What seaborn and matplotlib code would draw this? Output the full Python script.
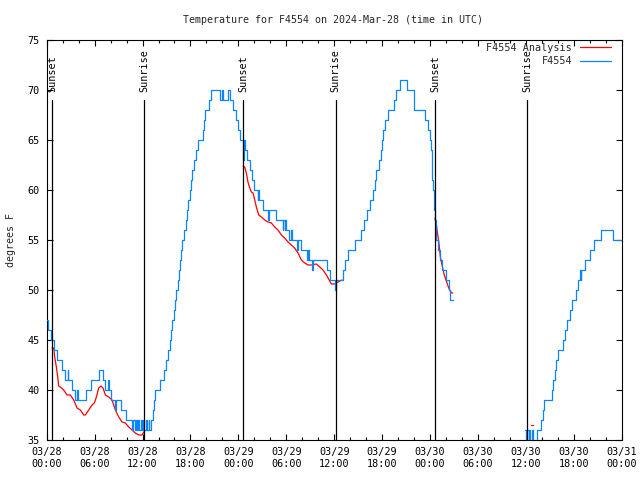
import numpy as np
import pandas as pd
import matplotlib
matplotlib.use("Agg")
import matplotlib.pyplot as plt
import matplotlib.dates as mdates
from matplotlib.lines import Line2D
import seaborn as sns

START = pd.Timestamp("2024-03-28 00:00")
TITLE = "Temperature for F4554 on 2024-Mar-28 (time in UTC)"
Y_LABEL = "degrees F"
SERIES_NAMES = ["F4554 Analysis", "F4554"]

# ---- F4554 observations (hours since 03/28 00:00 UTC, deg F), step data ----
obs1_hours = [0.00, 0.20, 0.55, 0.90, 1.25, 1.90, 2.30, 2.65, 2.72, 3.15, 3.55, 3.80, 3.95,
              4.95, 5.55, 6.60, 7.05, 7.30, 7.70, 7.78, 8.10, 8.50, 8.70, 9.25, 9.95, 10.70,
              10.85, 11.00, 11.15, 11.30, 11.45, 11.60, 11.75, 11.90, 12.05, 12.20, 12.40,
              12.55, 12.75, 12.85, 13.05, 13.25, 13.45, 13.60, 14.20, 14.65, 15.00, 15.20,
              15.40, 15.60, 15.75, 15.95, 16.10, 16.25, 16.40, 16.55, 16.70, 16.85, 17.00,
              17.15, 17.40, 17.60, 17.75, 17.90, 18.05, 18.25, 18.45, 18.65, 19.00, 19.55,
              19.70, 19.78, 20.30, 20.55, 21.65, 21.95, 22.10, 22.65, 23.00, 23.35, 23.75,
              23.95, 24.20, 24.55, 24.62, 24.68, 24.85, 25.05, 25.45, 25.65, 25.90, 26.45,
              26.52, 26.60, 27.05, 27.75, 27.82, 28.75, 29.55, 29.62, 29.80, 29.86, 30.00,
              30.40, 30.55, 30.70, 31.40, 31.45, 31.85, 32.60, 32.66, 32.90, 33.25, 33.31,
              35.05, 35.50, 36.15, 36.25, 37.15, 37.35, 37.75, 38.55, 39.30, 39.70, 40.10,
              40.50, 40.85, 41.05, 41.25, 41.60, 41.80, 41.95, 42.10, 42.40, 42.75, 43.50,
              43.80, 44.25, 45.15, 45.95, 47.40, 47.70, 47.95, 48.15, 48.20, 48.25, 48.30,
              48.35, 48.45, 48.55, 48.62, 48.70, 48.80, 48.95, 49.30, 49.55, 49.95, 50.35,
              50.50, 50.85]
obs1_temps = [47, 46, 45, 44, 43, 42, 41, 42, 41, 40, 39, 40, 39,
              40, 41, 42, 41, 40, 41, 40, 39, 38, 39, 38, 37, 36,
              37, 36, 37, 36, 37, 36, 37, 36, 37, 36, 37,
              36, 37, 36, 37, 38, 39, 40, 41, 42, 43, 44,
              45, 46, 47, 48, 49, 50, 51, 52, 53, 54, 55,
              56, 57, 58, 59, 60, 61, 62, 63, 64, 65, 66,
              67, 68, 69, 70, 69, 70, 69, 70, 69, 68, 67,
              66, 65, 64, 63, 65, 64, 63, 62, 61, 60, 59,
              60, 59, 58, 57, 58, 57, 56, 57, 56, 57, 56,
              55, 56, 55, 54, 55, 54, 53, 54, 53, 52, 53,
              52, 51, 50, 51, 52, 53, 54, 55, 56, 57, 58,
              59, 60, 61, 62, 63, 64, 65, 66, 67, 68, 69,
              70, 71, 70, 68, 67, 66, 65, 64, 63, 62, 61,
              60, 59, 58, 57, 56, 55, 54, 53, 52, 51, 50,
              49, 49]

obs2_hours = [59.85, 60.00, 60.10, 60.20, 60.35, 60.45, 60.55, 60.65, 60.75, 60.85, 61.00,
              61.15, 61.30, 61.45, 61.90, 62.10, 62.30, 63.25, 63.45, 63.60, 63.75, 64.00,
              64.60, 64.95, 65.20, 65.50, 65.75, 66.30, 66.55, 66.75, 66.85, 66.95, 67.40,
              68.00, 68.50, 69.40, 70.95, 71.90]
obs2_temps = [36, 35, 34, 36, 35, 36, 34, 35, 36, 34, 35,
              34, 35, 36, 37, 38, 39, 40, 41, 42, 43, 44,
              45, 46, 47, 48, 49, 50, 51, 52, 51, 52, 53,
              54, 55, 56, 55, 55]

# ---- F4554 Analysis (hours since 03/28 00:00 UTC, deg F) ----
ana1_hours = [0.67, 0.88, 1.00, 1.21, 1.38, 1.50, 1.71, 2.13, 2.55, 2.96, 3.38, 3.80, 4.22,
              4.63, 4.84, 5.26, 5.68, 5.97, 6.22, 6.51, 6.80, 7.05, 7.35, 7.76, 8.18, 8.39,
              8.60, 9.02, 9.43, 9.85, 10.27, 10.69, 11.10, 11.52, 11.94, 12.15]
ana1_temps = [44.2, 44.2, 43.3, 42.3, 41.3, 40.4, 40.3, 40.0, 39.5, 39.5, 39.0, 38.2, 38.0,
              37.5, 37.5, 38.0, 38.5, 38.7, 39.3, 40.2, 40.4, 40.2, 39.5, 39.3, 39.0, 38.5,
              38.0, 37.3, 36.8, 36.7, 36.3, 36.0, 35.7, 35.5, 35.5, 35.8]
ana2_hours = [24.58, 24.79, 25.00, 25.20, 25.42, 25.63, 25.84, 26.05, 26.25, 26.55, 26.88,
              27.30, 27.72, 28.13, 28.55, 28.97, 29.39, 29.80, 30.22, 30.64, 31.05, 31.47,
              31.89, 32.31, 32.72, 33.14, 33.77, 34.19, 34.60, 35.02, 35.23, 35.65, 36.07,
              36.27, 36.69, 37.00]
ana2_temps = [62.4, 62.3, 61.7, 60.8, 60.2, 59.8, 59.7, 59.0, 58.3, 57.5, 57.3,
              57.0, 56.8, 56.7, 56.3, 56.0, 55.5, 55.2, 54.8, 54.5, 54.2, 53.7,
              53.0, 52.7, 52.5, 52.5, 52.6, 52.3, 52.0, 51.5, 51.2, 50.6, 50.6,
              50.7, 50.9, 51.0]
ana3_hours = [48.62, 48.80, 48.95, 49.10, 49.30, 49.50, 49.75, 50.00, 50.25, 50.45, 50.70, 50.85]
ana3_temps = [57.2, 56.5, 55.6, 54.8, 53.3, 52.5, 51.6, 51.0, 50.4, 50.0, 49.7, 49.7]
ana4_hours = [60.60, 60.85]
ana4_temps = [36.5, 36.5]

# ---- sunrise / sunset markers (hours since start) ----
sun_hours = [0.66, 12.18, 24.58, 36.19, 48.62, 60.14]
sun_labels = ["Sunset", "Sunrise", "Sunset", "Sunrise", "Sunset", "Sunrise"]

RED = "#ff0000"
BLUE = "#0a84ff"


def frame(segments):
    parts = []
    for i, (h, t) in enumerate(segments):
        parts.append(pd.DataFrame({
            "time": START + pd.to_timedelta(np.array(h), unit="h"),
            "temp": t,
            "seg": i,
        }))
    return pd.concat(parts, ignore_index=True)


obs_df = frame([(obs1_hours, obs1_temps), (obs2_hours, obs2_temps)])
ana_df = frame([(ana1_hours, ana1_temps), (ana2_hours, ana2_temps),
                (ana3_hours, ana3_temps), (ana4_hours, ana4_temps)])

sns.set_theme(style="ticks")
plt.rcParams["font.family"] = ["DejaVu Sans Mono", "DejaVu Sans"]
plt.rcParams.update({
    "xtick.direction": "in", "ytick.direction": "in",
    "xtick.top": True, "ytick.right": True,
    "xtick.color": "black", "ytick.color": "black",
    "axes.edgecolor": "black", "axes.linewidth": 0.8,
})

fig = plt.figure(figsize=(6.4, 4.8), dpi=100)
ax = fig.add_axes([46.7 / 640, 40 / 480, 575 / 640, 400 / 480])

sns.lineplot(data=ana_df, x="time", y="temp", units="seg", estimator=None, sort=False,
             color=RED, lw=0.9, legend=False, ax=ax, zorder=2)
sns.lineplot(data=obs_df, x="time", y="temp", units="seg", estimator=None, sort=False,
             color=BLUE, lw=0.9, drawstyle="steps-post", legend=False, ax=ax, zorder=3)

for h, lab in zip(sun_hours, sun_labels):
    t = START + pd.Timedelta(hours=h)
    ax.plot([t, t], [35, 69], color="black", lw=0.9, zorder=4)
    ax.text(t, 69.8, lab, rotation=90, ha="center", va="bottom", fontsize=7.3, color="black")

ax.set_xlim(START, START + pd.Timedelta(hours=72))
ax.set_ylim(35, 75)
ax.set_yticks(np.arange(35, 76, 5))
ax.xaxis.set_major_locator(mdates.HourLocator(byhour=[0, 6, 12, 18]))
ax.xaxis.set_minor_locator(mdates.HourLocator(byhour=range(0, 24, 2)))
ax.xaxis.set_major_formatter(mdates.DateFormatter("%m/%d\n%H:%M"))
ax.tick_params(which="major", length=4, width=0.8, labelsize=7.3, pad=5, colors="black")
ax.tick_params(which="minor", length=2.5, width=0.8, colors="black")
for lbl in ax.get_xticklabels():
    lbl.set_linespacing(1.3)
ax.set_xlabel("")
ax.set_ylabel("")
for s in ax.spines.values():
    s.set_visible(True)
    s.set_color("black")

handles = [Line2D([], [], color=RED, lw=0.9), Line2D([], [], color=BLUE, lw=0.9)]
ax.legend(handles, SERIES_NAMES, loc="upper right", bbox_to_anchor=(0.981, 0.993),
          frameon=False, markerfirst=False, fontsize=7.3, handlelength=3.0,
          handletextpad=0.8, labelspacing=0.35, borderaxespad=0, borderpad=0)

fig.text(333 / 640, 1 - 20 / 480, TITLE, ha="center", va="center", fontsize=7.2)
fig.text(11 / 640, 0.5, Y_LABEL, rotation=90, ha="center", va="center", fontsize=7.2)

fig.savefig("out.png", dpi=100)
